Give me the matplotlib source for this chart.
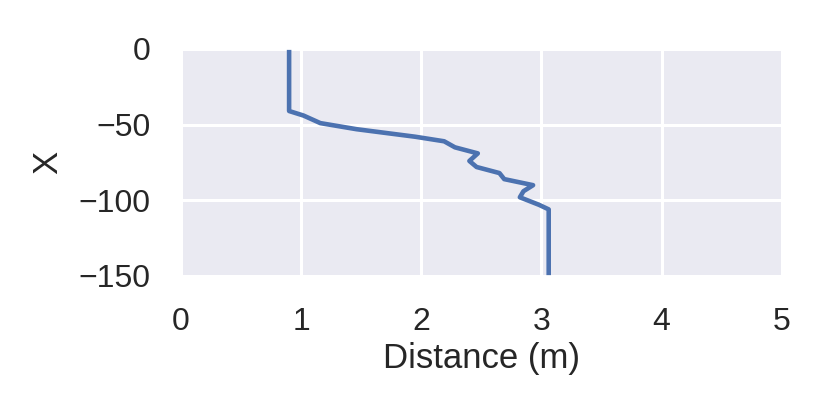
import numpy as np
import matplotlib
matplotlib.use("Agg")
import matplotlib.pyplot as plt
import seaborn as sns

# profile: distance (m) vs X
distance = [0.90, 0.90, 1.02, 1.16, 1.46, 1.95, 2.19, 2.28, 2.47, 2.40, 2.46,
            2.65, 2.69, 2.93, 2.85, 2.82, 2.98, 3.06, 3.06]
depth = [0, -41, -44, -49, -53, -58, -61, -65, -69, -74, -78,
         -82, -86, -90, -94, -98, -103, -106, -150]

x_ticks = [0, 1, 2, 3, 4, 5]
y_ticks = [0, -50, -100, -150]

sns.set_theme(style="darkgrid")
plt.rcParams["font.family"] = ["Liberation Sans", "DejaVu Sans"]

fig = plt.figure(figsize=(8.3, 4.15), dpi=100)
ax = fig.add_axes([0.218, 0.335, 0.724, 0.547])

ax.plot(distance, depth, color="#4C72B0", lw=3.3)

ax.set_xlim(0, 5)
ax.set_ylim(-150, 0)
ax.set_xticks(x_ticks)
ax.set_yticks(y_ticks)
ax.grid(True, color="white", lw=2.2)
ax.tick_params(axis="x", labelsize=23, pad=16, colors="#262626")
ax.tick_params(axis="y", labelsize=23, pad=16, colors="#262626")
ax.set_xlabel("Distance (m)", fontsize=25, color="#262626", labelpad=4)
ax.set_ylabel("X", fontsize=25, color="#262626", labelpad=10)

fig.savefig("out.png", dpi=100)
plt.close()
